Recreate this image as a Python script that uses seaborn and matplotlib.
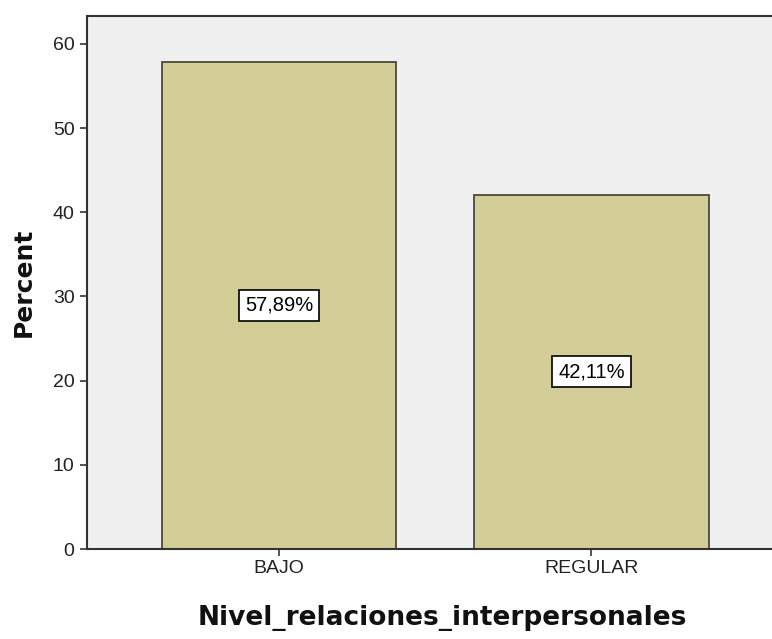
import matplotlib
matplotlib.use("Agg")
import matplotlib.pyplot as plt
import seaborn as sns
import pandas as pd

# datos del gráfico
categorias = ["BAJO", "REGULAR"]
porcentajes = [57.89, 42.11]
etiquetas = ["57,89%", "42,11%"]

df = pd.DataFrame({"Nivel": categorias, "Percent": porcentajes})

sns.set_style("white")
fig = plt.figure(figsize=(7.72, 6.39), dpi=100)
ax = fig.add_axes([0.1127, 0.1408, 0.888, 0.834])
ax.set_facecolor("#f0f0f0")

sns.barplot(data=df, x="Nivel", y="Percent", color="#d3cd97", saturation=1,
            width=0.75, edgecolor="#4a4a3a", linewidth=1.3, ax=ax)

for i, (v, txt) in enumerate(zip(porcentajes, etiquetas)):
    ax.text(i, v / 2, txt, ha="center", va="center", fontsize=14.5,
            family="Liberation Sans", color="black",
            bbox=dict(boxstyle="square,pad=0.3", fc="white", ec="black", lw=1.2))

ax.set_ylim(0, 63.3)
ax.set_xlim(-0.615, 1.58)
ax.set_yticks([0, 10, 20, 30, 40, 50, 60])

for s in ["top", "left", "bottom"]:
    ax.spines[s].set_color("#333333")
    ax.spines[s].set_linewidth(1.5)
ax.spines["right"].set_visible(False)

ax.tick_params(axis="both", which="both", direction="out", length=5, width=1.2,
               color="#333333", labelsize=14, labelcolor="#222222",
               left=True, bottom=True, pad=3)
ax.tick_params(axis="y", pad=4)
for lab in ax.get_xticklabels() + ax.get_yticklabels():
    lab.set_family("Liberation Sans")

ax.set_xlabel("Nivel_relaciones_interpersonales", fontsize=19, fontweight="bold",
              labelpad=20, color="#111111")
ax.xaxis.set_label_coords(0.519, -0.105)
ax.set_ylabel("Percent", fontsize=18, fontweight="bold", labelpad=12,
              color="#111111")

fig.savefig("out.png", dpi=100)
